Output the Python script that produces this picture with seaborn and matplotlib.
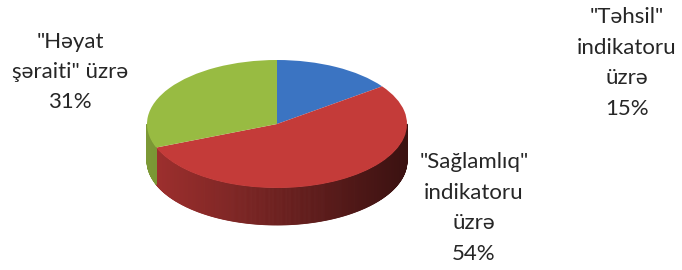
import numpy as np
import matplotlib.pyplot as plt
import seaborn as sns
from matplotlib.colors import to_rgb

# data
labels = ['"Təhsil"\nindikatoru\nüzrə', '"Sağlamlıq"\nindikatoru\nüzrə', '"Həyat\nşəraiti" üzrə']
shares = [15, 54, 31]
colors = ['#3b74c2', '#c43b39', '#98bb42']

sns.set_style("white")
plt.rcParams['font.family'] = ['Lato', 'DejaVu Sans']

W, H = 682, 270
fig = plt.figure(figsize=(W / 100, H / 100), dpi=100)
ax = fig.add_axes([0, 0, 1, 1])

# ellipse geometry in pixels (from top-left)
cx, cy = 277, 124
rx, ry = 130, 64
depth = 37 / ry

wedges, _ = ax.pie(shares, colors=colors, startangle=90, counterclock=False,
                   radius=1, wedgeprops=dict(linewidth=0))
for w in wedges:
    w.set_zorder(3)

# side wall of the tilted pie, drawn in thin strips for shading
cum = np.concatenate([[0], np.cumsum(shares)]) / sum(shares) * 360
for i, col in enumerate(colors):
    t1 = 90 - cum[i + 1]
    t2 = 90 - cum[i]
    ts = np.arange(t1, t2 + 0.5, 0.5)
    ts[-1] = min(ts[-1], t2)
    base = np.array(to_rgb(col))
    for a, b in zip(ts[:-1], ts[1:]):
        m = np.radians((a + b) / 2)
        if np.sin(m) >= 0:
            continue
        ra, rb = np.radians(a), np.radians(b)
        shade = 0.82 - 0.52 * (np.cos(m) + 1) / 2
        c = base * shade
        xs = [np.cos(ra), np.cos(rb), np.cos(rb), np.cos(ra)]
        ys = [np.sin(ra), np.sin(rb), np.sin(rb) - depth, np.sin(ra) - depth]
        ax.fill(xs, ys, color=c, lw=0.6, ec=c, zorder=2)

ax.set_xlim(-cx / rx, (W - cx) / rx)
ax.set_ylim(-(H - cy) / ry, cy / ry)
ax.set_aspect('auto')
ax.axis('off')

label_pos = [(627, 63), (474, 208), (70, 72)]
for lab, s, (px, py) in zip(labels, shares, label_pos):
    ax.text((px - cx) / rx, (cy - py) / ry, f'{lab}\n{s}%', ha='center', va='center',
            fontsize=16, color='#262626', linespacing=1.65, zorder=5)

fig.savefig('out.png', dpi=100)
